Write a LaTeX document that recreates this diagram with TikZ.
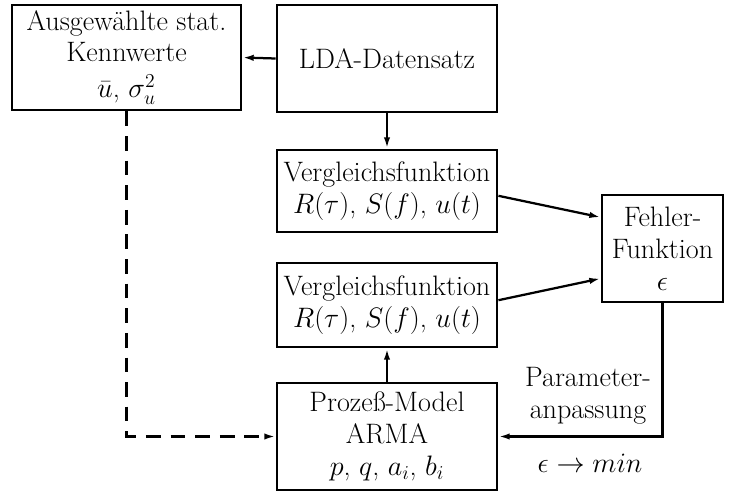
\RequirePackage{fix-cm}
\documentclass[tikz,border=0pt]{standalone}
\usetikzlibrary{arrows.meta}

\begin{document}
\begin{tikzpicture}[x=0.025cm, y=-0.025cm,
			every node/.style={align=center, font=\fontsize{20}{22.7}\selectfont},
			box/.style={draw, line width=2pt, inner sep=0pt},
			wide/.style={box, minimum width=5.5cm},
			link/.style={line width=1.6pt, -{Latex[length=8pt, width=4.5pt]}},
			dashlink/.style={link, dash pattern=on 10.5pt off 7pt}]

		\useasboundingbox (0, 0) rectangle (730, 493);

		\node[box, minimum width=5.725cm, minimum height=2.625cm] (kenn) at (126.5, 57.5)
			{Ausgewählte stat.\\[-1pt]Kennwerte\\[3pt]$\bar{u}$, $\sigma_u^2$};
		\node[wide, minimum height=2.675cm] (lda) at (387, 58.5) {LDA-Datensatz};
		\node[wide, minimum height=2.05cm] (vgl1) at (387, 191)
			{Vergleichsfunktion\\$R(\tau)$, $S(f)$, $u(t)$};
		\node[wide, minimum height=2.1cm] (vgl2) at (387, 305)
			{Vergleichsfunktion\\$R(\tau)$, $S(f)$, $u(t)$};
		\node[wide, minimum height=2.675cm] (proz) at (387, 436.5)
			{Prozeß-Model\\ARMA\\$p$, $q$, $a_i$, $b_i$};
		\node[box, minimum width=3.025cm, minimum height=2.675cm] (fehler) at (662.5, 248.5)
			{Fehler-\\Funktion\\$\epsilon$};

		\node (anp) at (588, 396) {Parameter-\\anpassung};
		\node (min) at (590, 463) {$\epsilon \rightarrow min$};

		\draw[link] (lda.west) -- (kenn.east);
		\draw[link] (lda.south) -- (vgl1.north);
		\draw[link] (proz.north) -- (vgl2.south);
		\draw[link] ([yshift=-0.12cm]vgl1.east) -- ([yshift=0.78cm]fehler.west);
		\draw[link] ([yshift=0.12cm]vgl2.east) -- ([yshift=-0.75cm]fehler.west);
		\draw[link] (fehler.south) |- (proz.east);
		\draw[dashlink] (kenn.south) |- (proz.west);
	\end{tikzpicture}
\end{document}
